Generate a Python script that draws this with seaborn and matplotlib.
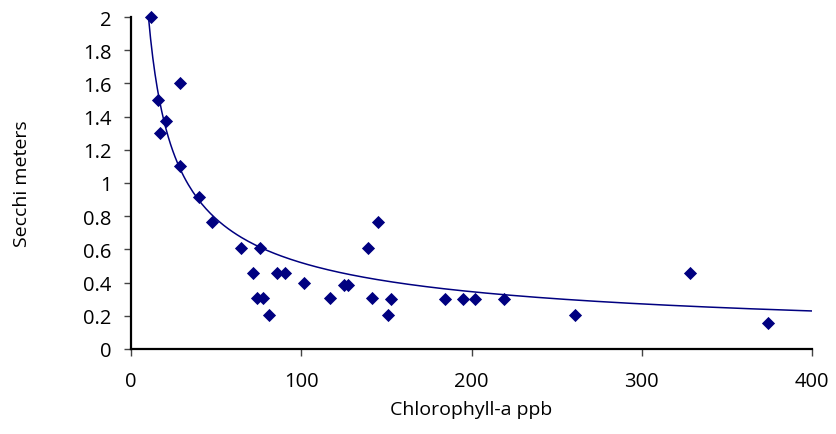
from matplotlib import pyplot as plt
from matplotlib import ticker as ticker
import numpy as np
import pandas as pd
import seaborn as sns

sns.set_style('white')
plt.rcParams['font.family'] = ['Open Sans', 'DejaVu Sans']

# chlorophyll-a (ppb) and secchi depth (m)
chl = [11.9, 15.7, 16.9, 20.8, 28.8, 28.8, 40.0, 47.8, 64.7, 75.7,
       71.8, 73.9, 77.8, 81.2, 85.9, 90.4, 101.4, 116.9, 125.1, 127.6,
       139.2, 145.3, 141.4, 151.2, 152.5, 184.3, 195.3, 202.2, 219.0,
       260.6, 328.6, 374.2]
secchi = [2.0, 1.5, 1.3, 1.376, 1.6, 1.105, 0.915, 0.765, 0.61, 0.61,
          0.46, 0.31, 0.31, 0.203, 0.46, 0.46, 0.40, 0.31, 0.384, 0.384,
          0.61, 0.765, 0.31, 0.203, 0.30, 0.30, 0.30, 0.30, 0.30,
          0.203, 0.458, 0.157]

# points read along the drawn (power) trendline
trend_x = [10.2, 11.8, 13.1, 15.1, 29.8, 40.2, 47.8, 75.3, 100, 122.9,
           200, 263.9, 332.7, 400]
trend_y = [1.98, 1.91, 1.71, 1.55, 1.105, 0.915, 0.765, 0.615, 0.52, 0.46,
           0.344, 0.293, 0.26, 0.227]

df = pd.DataFrame({'chl': chl, 'secchi': secchi})

# excel style power trendline through the read curve
b, loga = np.polyfit(np.log(trend_x), np.log(trend_y), 1)
xs = np.linspace(min(trend_x), max(trend_x), 300)
trend = pd.DataFrame({'chl': xs, 'secchi': np.exp(loga) * xs ** b})

navy = '#000080'

fig = plt.figure(figsize=(8.36, 4.35), dpi=100)
ax = fig.add_axes([131/836, 1 - 350/435, 681/836, 332/435])

sns.lineplot(x='chl', y='secchi', data=trend, color=navy, lw=1.1, ax=ax)
sns.scatterplot(x='chl', y='secchi', data=df, color=navy, marker='D',
                s=45, edgecolor=navy, linewidth=0, ax=ax, zorder=3,
                clip_on=False)

ax.set(xlim=(0, 400), ylim=(0, 2))
ax.xaxis.set_major_locator(ticker.MultipleLocator(100))
ax.yaxis.set_major_locator(ticker.MultipleLocator(0.2))
ax.yaxis.set_major_formatter(ticker.FuncFormatter(lambda v, p: '{:g}'.format(round(v, 1))))
sns.despine(ax=ax)
for s in ['left', 'bottom']:
    ax.spines[s].set_color('black')
    ax.spines[s].set_linewidth(1.6)
ax.tick_params(direction='out', length=5, width=1, color='#444444',
               labelsize=14.5, labelcolor='black', bottom=True, left=True)
ax.tick_params(axis='x', pad=11)
ax.tick_params(axis='y', pad=9)
ax.set_xlabel('Chlorophyll-a ppb', fontsize=14, color='black')
ax.set_ylabel('Secchi meters', fontsize=14, color='black')
ax.xaxis.set_label_coords(0.5, -0.155)
ax.yaxis.set_label_coords(-0.147, 0.5)

plt.savefig('out.png', dpi=100)
